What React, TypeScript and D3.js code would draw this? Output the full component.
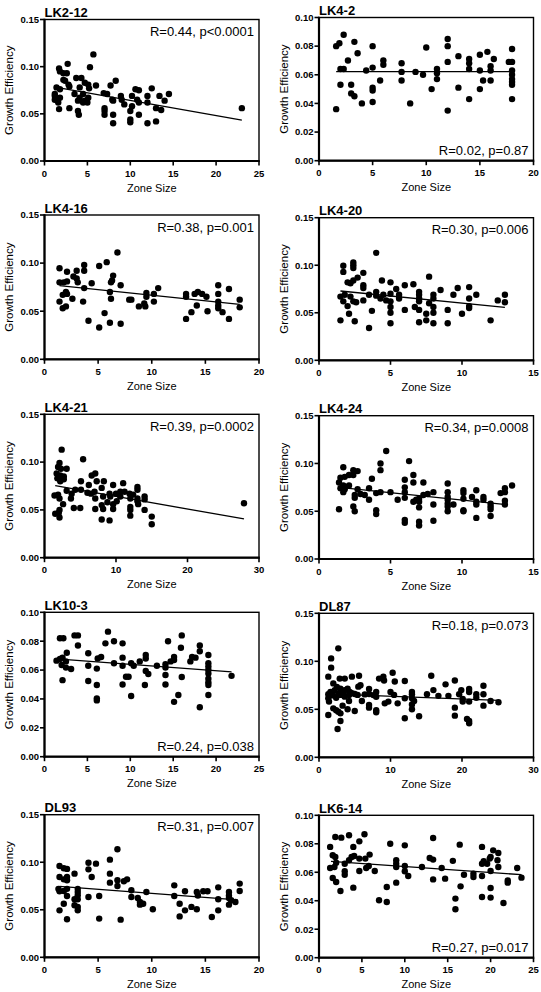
import React from "react";
import * as d3 from "d3";

type Pt = [number, number];

// ---------- data ----------
const lk2_12: Pt[] = [
  [5.7,0.113],[2.7,0.103],[1.7,0.098],[5.3,0.0995],[1.8,0.095],[2.2,0.093],[2.6,0.093],[3.7,0.088],[4.3,0.088],[2.2,0.086],
  [2.4,0.085],[8.3,0.085],[2.8,0.081],[4.7,0.083],[5.1,0.081],[6.0,0.080],[7.7,0.080],[2.9,0.079],[1.4,0.078],[1.8,0.076],
  [4.1,0.078],[5.2,0.077],[10.6,0.076],[11.0,0.075],[12.5,0.077],[6.9,0.072],[7.3,0.071],[14.5,0.071],[1.2,0.071],[3.5,0.071],
  [4.5,0.071],[8.9,0.069],[10.2,0.069],[12.0,0.069],[13.4,0.069],[1.2,0.069],[1.8,0.067],[4.1,0.067],[5.1,0.067],[7.9,0.065],
  [9.0,0.065],[10.8,0.065],[14.0,0.064],[1.2,0.065],[3.9,0.064],[4.7,0.064],[8.0,0.064],[11.0,0.062],[12.0,0.062],[9.3,0.060],
  [1.6,0.062],[4.5,0.062],[5.0,0.062],[10.2,0.058],[13.6,0.054],[13.0,0.056],[2.9,0.056],[23.0,0.056],[7.0,0.056],[1.7,0.055],
  [7.0,0.053],[10.0,0.053],[3.9,0.053],[4.0,0.049],[7.0,0.049],[8.0,0.049],[11.0,0.049],[10.0,0.044],[10.0,0.041],[13.0,0.042],
  [8.0,0.040],[12.0,0.040],
];
const lk2_12Fit: Pt[] = [[1.4,0.078],[23,0.0434]];

const lk4_2: Pt[] = [
  [1.6,0.036],[1.6,0.080],[1.9,0.082],[2.3,0.088],[2.0,0.064],[2.3,0.064],[2.0,0.053],[2.7,0.070],[3.0,0.053],[3.0,0.047],
  [3.3,0.045],[3.3,0.083],[3.6,0.075],[4.0,0.040],[4.4,0.063],[5.0,0.080],[5.0,0.065],[5.0,0.051],[5.0,0.049],[5.0,0.041],
  [5.7,0.056],[6.0,0.070],[6.0,0.067],[7.7,0.068],[7.7,0.062],[7.7,0.056],[8.5,0.040],[9.0,0.062],[9.7,0.060],[10.0,0.079],
  [10.5,0.050],[11.0,0.064],[11.0,0.061],[11.0,0.057],[12.0,0.085],[12.0,0.080],[12.0,0.069],[12.0,0.035],[13.0,0.073],[13.0,0.051],
  [14.0,0.071],[14.0,0.068],[14.0,0.064],[14.0,0.043],[15.0,0.074],[15.0,0.063],[15.0,0.050],[15.3,0.056],[15.7,0.076],[16.0,0.066],
  [16.0,0.063],[16.0,0.056],[16.3,0.071],[17.7,0.069],[18.0,0.078],[18.0,0.069],[18.0,0.063],[18.0,0.060],[18.0,0.057],[18.0,0.055],
  [18.0,0.053],[18.0,0.043],
];
const lk4_2Fit: Pt[] = [[1.6,0.0622],[18,0.0622]];

const lk4_16: Pt[] = [
  [6.8,0.111],[1.4,0.0946],[2.1,0.091],[3.0,0.092],[3.7,0.098],[3.7,0.092],[5.1,0.097],[5.8,0.101],[6.4,0.087],[2.7,0.086],
  [3.0,0.084],[3.1,0.080],[1.4,0.080],[1.8,0.080],[2.1,0.081],[4.4,0.079],[6.2,0.080],[6.3,0.082],[7.1,0.077],[2.0,0.070],
  [2.1,0.068],[1.7,0.067],[3.7,0.074],[6.1,0.070],[10.6,0.074],[1.4,0.060],[2.6,0.063],[3.6,0.060],[6.2,0.063],[8.1,0.062],
  [7.9,0.062],[8.8,0.055],[9.3,0.058],[9.5,0.069],[9.5,0.065],[10.2,0.068],[10.2,0.060],[9.4,0.055],[1.7,0.053],[2.0,0.055],
  [5.6,0.048],[4.1,0.040],[5.1,0.033],[6.1,0.038],[7.1,0.037],[13.2,0.068],[13.2,0.065],[13.2,0.042],[13.7,0.049],[14.0,0.068],
  [14.3,0.070],[14.2,0.056],[14.7,0.068],[15.1,0.065],[15.2,0.050],[16.2,0.077],[16.2,0.068],[16.2,0.060],[16.2,0.056],[16.2,0.053],
  [16.6,0.049],[17.2,0.073],[17.2,0.042],[18.2,0.062],[18.2,0.054],
];
const lk4_16Fit: Pt[] = [[1.4,0.0766],[18.2,0.057]];

const lk4_20: Pt[] = [
  [4.0,0.113],[1.7,0.0995],[1.7,0.093],[2.4,0.103],[2.4,0.100],[2.4,0.097],[3.1,0.092],[2.7,0.087],[2.4,0.084],[2.0,0.082],
  [2.2,0.081],[3.1,0.079],[3.1,0.076],[4.4,0.084],[5.0,0.082],[6.0,0.079],[6.6,0.080],[7.7,0.088],[8.5,0.074],[9.7,0.076],
  [10.5,0.077],[11.0,0.069],[1.5,0.067],[1.8,0.069],[2.2,0.067],[3.5,0.069],[4.0,0.072],[4.0,0.068],[4.5,0.069],[5.0,0.070],
  [5.4,0.075],[5.6,0.069],[5.6,0.065],[5.0,0.062],[4.7,0.063],[4.3,0.065],[1.7,0.062],[2.4,0.062],[2.0,0.057],[2.6,0.061],
  [3.1,0.063],[7.0,0.072],[7.0,0.069],[7.0,0.065],[7.0,0.062],[8.0,0.069],[8.0,0.065],[8.0,0.056],[7.7,0.060],[9.4,0.069],
  [10.5,0.065],[10.5,0.057],[10.5,0.055],[12.5,0.063],[13.0,0.069],[13.0,0.061],[2.1,0.049],[1.5,0.042],[2.5,0.041],[3.7,0.052],
  [3.5,0.034],[5.0,0.056],[5.0,0.050],[5.0,0.039],[6.0,0.053],[6.7,0.056],[7.0,0.053],[7.0,0.040],[7.5,0.049],[7.5,0.042],
  [8.0,0.050],[8.0,0.039],[9.0,0.053],[9.0,0.039],[10.0,0.049],[12.0,0.042],
];
const lk4_20Fit: Pt[] = [[1.5,0.0729],[13,0.0557]];

const lk4_21: Pt[] = [
  [2.4,0.113],[5.4,0.103],[2.1,0.099],[1.9,0.095],[2.3,0.093],[3.1,0.093],[1.7,0.088],[2.2,0.086],[2.7,0.085],[6.6,0.086],
  [7.1,0.088],[1.8,0.083],[2.7,0.082],[2.2,0.080],[5.1,0.080],[7.3,0.080],[8.3,0.080],[6.2,0.076],[9.6,0.076],[11.0,0.078],
  [13.0,0.074],[13.0,0.071],[8.0,0.073],[5.1,0.071],[3.1,0.070],[3.8,0.067],[4.3,0.071],[6.0,0.068],[6.5,0.067],[7.0,0.069],
  [9.1,0.067],[10.0,0.067],[10.6,0.069],[11.2,0.069],[11.9,0.067],[12.4,0.066],[14.0,0.064],[1.4,0.065],[1.9,0.066],[2.1,0.062],
  [3.7,0.062],[8.2,0.064],[9.2,0.064],[10.6,0.064],[12.0,0.062],[13.0,0.062],[14.0,0.061],[10.1,0.059],[8.8,0.058],[13.0,0.059],
  [13.1,0.056],[2.6,0.056],[9.6,0.056],[7.1,0.062],[8.0,0.055],[4.1,0.052],[5.0,0.052],[7.1,0.051],[8.2,0.051],[9.6,0.051],
  [12.0,0.053],[12.0,0.050],[14.0,0.050],[2.1,0.050],[1.5,0.046],[2.0,0.047],[2.1,0.042],[12.0,0.044],[8.0,0.040],[9.1,0.039],
  [15.0,0.043],[15.0,0.035],[27.9,0.057],
];
const lk4_21Fit: Pt[] = [[1.5,0.0753],[27.9,0.0405]];

const lk4_24: Pt[] = [
  [4.7,0.113],[6.3,0.1025],[4.3,0.100],[4.3,0.093],[1.7,0.096],[2.4,0.093],[2.7,0.092],[2.1,0.088],[2.4,0.088],[6.6,0.088],
  [1.5,0.085],[1.8,0.086],[3.7,0.084],[6.0,0.083],[9.0,0.079],[7.3,0.080],[6.6,0.080],[6.0,0.075],[1.4,0.080],[1.7,0.077],
  [2.1,0.077],[1.5,0.074],[1.8,0.073],[1.7,0.070],[2.7,0.073],[3.5,0.074],[4.3,0.070],[4.0,0.069],[5.0,0.070],[6.0,0.070],
  [10.1,0.072],[10.1,0.069],[11.0,0.072],[11.5,0.065],[10.7,0.065],[13.5,0.077],[13.0,0.074],[13.0,0.070],[12.7,0.069],[8.0,0.070],
  [9.0,0.070],[7.3,0.067],[7.6,0.068],[2.5,0.067],[2.9,0.068],[3.2,0.067],[2.5,0.064],[6.0,0.064],[6.6,0.060],[6.8,0.062],
  [7.0,0.063],[5.5,0.062],[10.1,0.063],[11.5,0.062],[11.0,0.060],[12.0,0.058],[12.0,0.055],[12.0,0.052],[12.0,0.045],[13.0,0.061],
  [13.0,0.057],[9.0,0.065],[9.0,0.062],[9.0,0.058],[9.0,0.055],[9.0,0.050],[9.4,0.057],[10.1,0.051],[10.1,0.050],[11.0,0.057],
  [11.0,0.043],[8.0,0.057],[8.0,0.040],[7.0,0.060],[7.0,0.054],[7.0,0.039],[7.0,0.035],[6.0,0.041],[6.0,0.038],[3.5,0.062],
  [4.0,0.051],[4.0,0.047],[1.4,0.052],[2.4,0.055],[2.5,0.050],
];
const lk4_24Fit: Pt[] = [[1.4,0.075],[13.1,0.057]];

const lk10_3: Pt[] = [
  [7.4,0.0866],[3.5,0.084],[3.9,0.084],[16.0,0.084],[14.4,0.080],[8.1,0.080],[1.8,0.082],[2.2,0.082],[3.9,0.077],[7.1,0.0785],
  [9.1,0.0785],[18.1,0.077],[18.1,0.073],[15.9,0.0755],[2.6,0.072],[5.1,0.0716],[6.6,0.069],[6.2,0.068],[17.2,0.069],[17.6,0.0686],
  [17.0,0.066],[15.1,0.069],[15.1,0.067],[14.7,0.066],[11.8,0.0705],[11.8,0.068],[9.1,0.0686],[1.4,0.0665],[1.8,0.0677],[2.1,0.0686],
  [2.5,0.066],[19.1,0.0704],[19.1,0.0647],[19.1,0.0624],[19.1,0.060],[19.1,0.0577],[19.1,0.054],[19.1,0.0515],[19.1,0.0497],[19.1,0.0427],
  [2.0,0.0635],[2.5,0.0617],[3.1,0.0607],[5.1,0.063],[6.1,0.061],[8.1,0.0647],[9.1,0.063],[10.1,0.0647],[10.4,0.063],[11.1,0.066],
  [13.1,0.063],[14.1,0.064],[14.1,0.0617],[11.8,0.0594],[12.1,0.0573],[9.5,0.0554],[9.8,0.0554],[14.1,0.0566],[16.0,0.0552],[21.8,0.056],
  [2.1,0.053],[5.1,0.0524],[6.1,0.0497],[9.1,0.050],[11.7,0.0497],[14.1,0.050],[10.1,0.042],[6.1,0.0404],[6.1,0.039],[15.6,0.0427],
  [15.1,0.038],[18.1,0.0342],
];
const lk10_3Fit: Pt[] = [[1.4,0.0677],[21.8,0.0587]];

const dl87: Pt[] = [
  [2.7,0.1135],[1.7,0.103],[1.7,0.0934],[1.3,0.084],[2.0,0.077],[2.9,0.082],[3.6,0.082],[4.6,0.084],[5.6,0.085],[8.4,0.082],
  [9.0,0.084],[9.1,0.080],[10.3,0.088],[10.6,0.079],[12.0,0.0795],[15.7,0.085],[17.7,0.076],[19.0,0.080],[16.0,0.070],[23.0,0.0745],
  [1.3,0.0656],[1.3,0.0615],[1.6,0.068],[2.2,0.070],[2.5,0.0733],[2.7,0.066],[3.0,0.0715],[3.3,0.068],[3.6,0.0698],[4.0,0.0715],
  [4.3,0.068],[4.2,0.065],[3.6,0.0632],[3.0,0.065],[2.4,0.062],[5.0,0.066],[5.5,0.0736],[5.8,0.075],[5.4,0.065],[6.0,0.0587],
  [7.0,0.0712],[7.0,0.066],[7.0,0.0545],[7.0,0.0517],[8.0,0.068],[8.0,0.063],[8.0,0.049],[8.0,0.047],[9.2,0.0562],[9.7,0.058],
  [10.0,0.068],[10.5,0.065],[11.0,0.0562],[12.0,0.0615],[12.0,0.0406],[13.0,0.068],[13.0,0.0656],[13.0,0.0615],[13.0,0.055],[13.0,0.050],
  [13.3,0.0587],[14.0,0.0427],[15.1,0.0656],[16.7,0.064],[18.1,0.064],[19.0,0.0517],[19.0,0.0434],[19.6,0.0656],[19.9,0.070],[20.1,0.0608],
  [20.1,0.058],[20.7,0.0399],[21.0,0.0378],[21.0,0.0354],[21.0,0.0712],[21.0,0.068],[21.0,0.058],[22.0,0.0656],[22.0,0.062],[23.0,0.0656],
  [23.0,0.0538],[24.0,0.0587],[25.1,0.0573],[1.3,0.044],[2.0,0.051],[2.4,0.049],[2.7,0.0475],[3.0,0.0458],[3.0,0.0378],[2.6,0.0295],
  [4.0,0.050],[5.0,0.0483],[3.3,0.0538],[1.4,0.058],[4.2,0.0587],[1.9,0.0645],[3.4,0.0662],[4.6,0.0668],[6.4,0.0655],[7.6,0.0648],
];
const dl87Fit: Pt[] = [[1.3,0.066],[25.1,0.0594]];

const dl93: Pt[] = [
  [6.8,0.1136],[1.4,0.096],[1.8,0.0936],[2.1,0.093],[4.1,0.0995],[4.8,0.0985],[4.1,0.0925],[6.1,0.1027],[6.1,0.088],[2.8,0.088],
  [4.4,0.0845],[1.4,0.0845],[1.8,0.082],[2.1,0.0845],[2.1,0.081],[6.8,0.081],[7.7,0.082],[7.4,0.080],[6.1,0.0785],[6.8,0.075],
  [1.4,0.0694],[1.8,0.0697],[1.3,0.072],[2.1,0.072],[3.1,0.072],[3.1,0.0687],[8.1,0.0705],[9.5,0.0687],[12.1,0.0757],[13.1,0.0694],
  [14.2,0.0687],[14.3,0.065],[14.8,0.0694],[15.2,0.0694],[16.2,0.0736],[17.2,0.0687],[17.2,0.065],[18.2,0.0775],[18.2,0.0697],[2.1,0.0645],
  [3.1,0.0652],[4.1,0.0634],[5.1,0.0645],[8.1,0.0634],[8.7,0.0624],[12.1,0.0645],[17.2,0.0624],[17.4,0.060],[17.8,0.0582],[17.2,0.0554],
  [16.2,0.061],[3.1,0.061],[2.8,0.061],[1.8,0.0564],[2.8,0.0547],[3.1,0.053],[8.9,0.0582],[8.9,0.0554],[9.2,0.0564],[12.6,0.0564],
  [1.4,0.0494],[3.1,0.0494],[10.1,0.0505],[13.1,0.0494],[13.7,0.053],[14.2,0.0505],[16.2,0.0494],[12.6,0.043],[15.6,0.0424],[2.1,0.040],
  [5.1,0.0407],[7.1,0.0396],
];
const dl93Fit: Pt[] = [[1.4,0.0747],[18,0.0603]];

const lk6_14: Pt[] = [
  [5.3,0.0867],[3.5,0.086],[1.9,0.0848],[2.6,0.0843],[13.3,0.0841],[4.7,0.0817],[8.3,0.080],[16.4,0.0794],[10.0,0.0789],[1.3,0.0778],
  [19.0,0.0778],[4.0,0.0778],[20.3,0.0754],[20.9,0.0735],[1.6,0.0719],[5.9,0.0724],[1.9,0.0707],[3.8,0.0707],[4.1,0.0714],[12.9,0.070],
  [13.3,0.0689],[19.9,0.0696],[20.0,0.0707],[20.8,0.0684],[9.0,0.0684],[4.7,0.0696],[5.4,0.0696],[3.5,0.0684],[15.6,0.068],[19.2,0.0677],
  [2.0,0.0667],[3.0,0.066],[9.0,0.066],[19.0,0.066],[19.6,0.066],[1.3,0.063],[1.8,0.0637],[5.5,0.063],[5.8,0.0644],[9.0,0.0637],
  [10.0,0.0644],[12.0,0.0637],[14.3,0.063],[20.9,0.0637],[23.1,0.063],[3.0,0.0607],[4.7,0.0609],[6.5,0.0609],[10.0,0.0607],[20.0,0.0609],
  [3.0,0.0583],[10.4,0.0574],[16.9,0.0583],[18.0,0.059],[18.0,0.0567],[1.6,0.056],[13.3,0.055],[14.7,0.0555],[19.0,0.0574],[22.0,0.0543],
  [22.0,0.0527],[23.6,0.0562],[2.0,0.0532],[9.0,0.0527],[16.5,0.0501],[4.0,0.0492],[7.9,0.0496],[20.0,0.0489],[2.5,0.0468],[19.0,0.0426],
  [20.0,0.0422],[15.9,0.0415],[7.0,0.0403],[7.9,0.0391],[21.5,0.0384],[15.9,0.034],
];
const lk6_14Fit: Pt[] = [[1.4,0.0677],[23.6,0.0583]];

const titles = ["LK2-12","LK4-2","LK4-16","LK4-20","LK4-21","LK4-24","LK10-3","DL87","DL93","LK6-14"];
const stats = [
  "R=0.44, p<0.0001","R=0.02, p=0.87","R=0.38, p=0.001","R=0.30, p=0.006","R=0.39, p=0.0002",
  "R=0.34, p=0.0008","R=0.24, p=0.038","R=0.18, p=0.073","R=0.31, p=0.007","R=0.27, p=0.017",
];
const series = [lk2_12, lk4_2, lk4_16, lk4_20, lk4_21, lk4_24, lk10_3, dl87, dl93, lk6_14];
const fits = [lk2_12Fit, lk4_2Fit, lk4_16Fit, lk4_20Fit, lk4_21Fit, lk4_24Fit, lk10_3Fit, dl87Fit, dl93Fit, lk6_14Fit];
const xMax = [25, 20, 20, 15, 30, 15, 25, 30, 20, 25];
const xStep = [5, 5, 5, 5, 10, 5, 5, 10, 5, 5];
const yMax = [0.15, 0.10, 0.15, 0.15, 0.15, 0.15, 0.10, 0.15, 0.15, 0.10];
const statAtBottom = [false, true, false, false, false, false, true, false, false, true];

const xLabel = "Zone Size";
const yLabel = "Growth Efficiency";

// ---------- layout ----------
const W = 541, H = 992;
const colLeft = [44.5, 319];
const plotW = 214.5;
const rowTops = [[19.5, 17.5], [215, 217.7], [414.3, 415.7], [612.3, 613.3], [814.7, 815.3]];
const rowBottoms = [[161, 160.7], [359.3, 360.3], [557.7, 559], [756.7, 757.3], [957.3, 957.7]];

const FONT = "'Liberation Sans', Arial, Helvetica, sans-serif";

function Panel({ i }: { i: number }) {
  const row = Math.floor(i / 2), col = i % 2;
  const left = colLeft[col];
  const right = left + plotW;
  const top = rowTops[row][col];
  const bottom = rowBottoms[row][col];
  const x = d3.scaleLinear().domain([0, xMax[i]]).range([left, right]);
  const y = d3.scaleLinear().domain([0, yMax[i]]).range([bottom, top]);
  const xTicks = d3.range(0, xMax[i] + 0.001, xStep[i]);
  const yStep = yMax[i] > 0.12 ? 0.05 : 0.02;
  const yTicks = d3.range(0, yMax[i] + 1e-9, yStep);
  const fmt = d3.format(".2f");
  const line = d3.line<Pt>().x(d => x(d[0])).y(d => y(d[1]));
  const cx = (left + right) / 2;
  const cy = (top + bottom) / 2;
  return (
    <g>
      {/* frame */}
      <rect x={left} y={top} width={right - left} height={bottom - top} fill="none" stroke="#000" strokeWidth={1.4} />
      <line x1={left} x2={left} y1={top - 0.7} y2={bottom + 1} stroke="#000" strokeWidth={2.2} />
      <line x1={left - 1} x2={right + 0.7} y1={bottom} y2={bottom} stroke="#000" strokeWidth={2.2} />
      {/* y ticks */}
      {yTicks.map(t => (
        <g key={"y" + t}>
          <line x1={left - 4.5} x2={left} y1={y(t)} y2={y(t)} stroke="#000" strokeWidth={1.6} />
          <text x={left - 5.5} y={y(t)} dy="0.35em" textAnchor="end" fontFamily={FONT} fontWeight="bold" fontSize={9.5}>{fmt(t)}</text>
        </g>
      ))}
      {/* x ticks */}
      {xTicks.map(t => (
        <g key={"x" + t}>
          <line x1={x(t)} x2={x(t)} y1={bottom} y2={bottom + 4.5} stroke="#000" strokeWidth={1.6} />
          <text x={x(t)} y={bottom + 15.5} textAnchor="middle" fontFamily={FONT} fontWeight="bold" fontSize={9.5}>{t}</text>
        </g>
      ))}
      {/* axis titles */}
      <text x={cx} y={bottom + 30.5} textAnchor="middle" fontFamily={FONT} fontSize={11}>{xLabel}</text>
      <text transform={`translate(${left - 35.5},${cy}) rotate(-90)`} dy="0.35em" textAnchor="middle" fontFamily={FONT} fontSize={11.5}>{yLabel}</text>
      {/* panel title */}
      <text x={left} y={top - 2.5} fontFamily={FONT} fontWeight="bold" fontSize={13}>{titles[i]}</text>
      {/* statistics */}
      <text x={right - 5} y={statAtBottom[i] ? bottom - 5.5 : top + 16.5} textAnchor="end" fontFamily={FONT} fontSize={13}>{stats[i]}</text>
      {/* regression line */}
      <path d={line(fits[i]) || ""} fill="none" stroke="#000" strokeWidth={1.3} />
      {/* points */}
      {series[i].map((d, k) => (
        <circle key={k} cx={x(d[0])} cy={y(d[1])} r={3.2} fill="#000" />
      ))}
    </g>
  );
}

export default function App() {
  return (
    <svg width={W} height={H} style={{ position: "absolute", left: 0, top: 0, background: "#fff" }}>
      <rect x={0} y={0} width={W} height={H} fill="#fff" />
      {titles.map((_, i) => <Panel key={i} i={i} />)}
    </svg>
  );
}
